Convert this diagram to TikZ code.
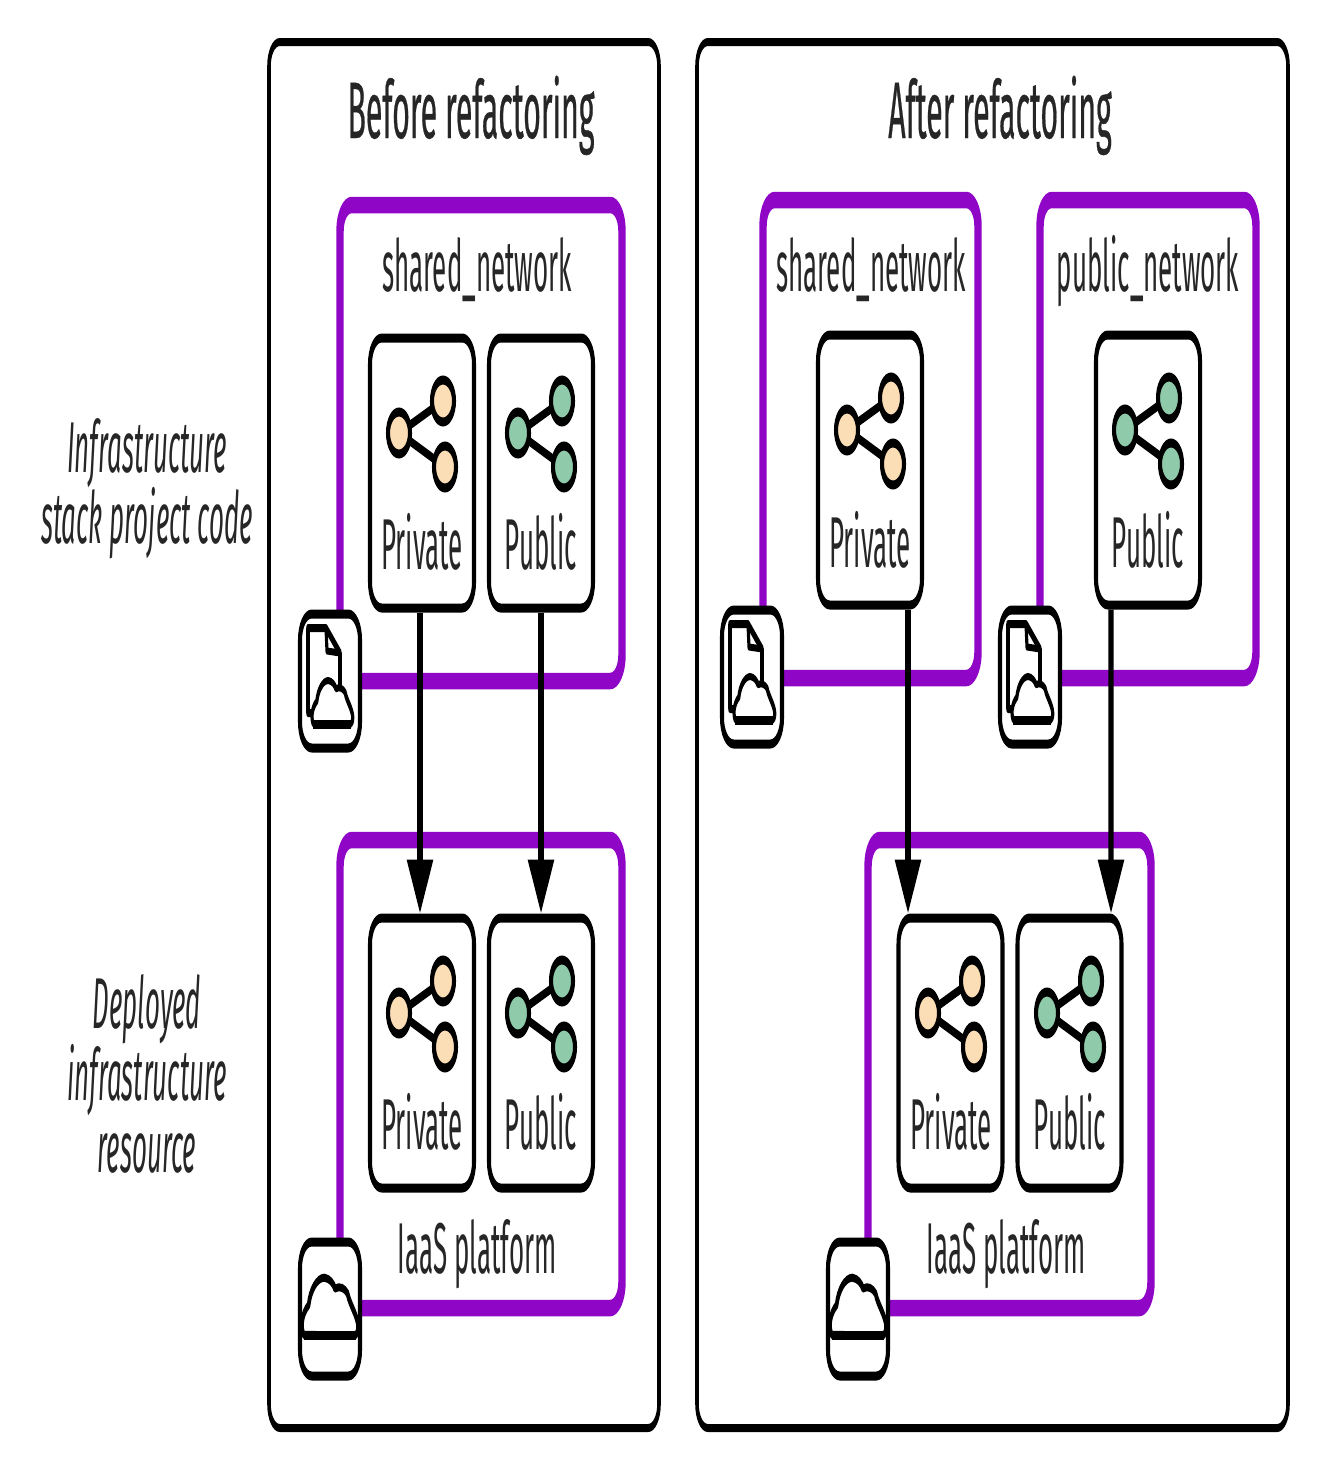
\documentclass[tikz,border=0pt]{standalone}
\usepackage{fontspec}
\usetikzlibrary{arrows.meta}
\setmainfont[FakeStretch=0.8]{Fira Sans}
\newfontfamily\headfont[FakeStretch=0.84,FakeBold=0.6]{Fira Sans}
\definecolor{peach}{HTML}{FBDDB6}
\definecolor{mint}{HTML}{8FCBAB}
\definecolor{violet}{HTML}{9006C6}
\definecolor{ink}{HTML}{262626}
\newcommand{\ks}{0.45}
\tikzset{
  panel/.style={draw=black,line width=8pt,rounded corners=24pt,fill=white,inner sep=0pt},
  grp/.style={draw=violet,line width=16.5pt,rounded corners=26pt},
  subnet/.style={draw=black,line width=9pt,rounded corners=26pt,fill=white,inner sep=0pt,minimum width=104pt/\ks,minimum height=270pt},
  iconbox/.style={draw=black,line width=9pt,rounded corners=26pt,fill=white,inner sep=0pt,minimum width=60pt/\ks,minimum height=134pt},
  link/.style={draw=black,line width=12pt,-{Triangle[length=54pt,width=56pt]}},
  body/.style={text=ink,inner sep=0pt,anchor=base,font=\fontsize{72}{80}\selectfont},
  heading/.style={text=ink,inner sep=0pt,anchor=base,font=\headfont\fontsize{80}{88}\selectfont},
  side/.style={text=ink,inner sep=0pt,anchor=base,font=\itshape\fontsize{72}{80}\selectfont},
  pics/share/.style={code={
    \draw[black,line width=9pt] (29,95) -- (73,63) (29,95) -- (75,129);
    \draw[black,line width=9pt,fill=#1] (29,95) ellipse [x radius=11,y radius=21];
    \draw[black,line width=9pt,fill=#1] (73,63) ellipse [x radius=11,y radius=21];
    \draw[black,line width=9pt,fill=#1] (75,129) ellipse [x radius=11,y radius=21];
  }},
  pics/cloud/.style={code={
    \draw[black,line width=#1,line join=round,fill=white]
      (5,175) .. controls (-5,150) and (0,110) .. (20,85)
      .. controls (25,40) and (45,2) .. (68,2)
      .. controls (85,5) and (95,20) .. (100,35)
      .. controls (115,25) and (130,35) .. (138,50)
      .. controls (145,85) and (168,115) .. (170,150)
      .. controls (170,165) and (165,175) .. (160,178) -- cycle;
    \draw[black,line width=9pt] (5,178) -- (163,178);
  }},
  pics/docfile/.style={code={
    \draw[black,line width=8pt,line join=round,fill=white]
      (10,15) -- (28,15) -- (42,40) -- (42,100) -- (10,100) -- cycle;
    \draw[black,line width=7pt,line join=round] (28,15) -- (29,38) -- (42,40);
  }}
}
\begin{document}
\begin{tikzpicture}[x=1pt,y=-1pt]
\fill[white,use as bounding box] (0,0) rectangle (1322,1462);
\begin{scope}[transform canvas={xscale=\ks},x=1pt/\ks,y=-1pt]

% panels
\node[panel,minimum width=390pt/\ks,minimum height=1386pt] (pb) at (464,735) {};
\node[panel,minimum width=591pt/\ks,minimum height=1386pt] (pa) at (992.5,735) {};
\node[heading] (tb) at (471,138) {Before refactoring};
\node[heading] (ta) at (1000,138) {After refactoring};

% side labels
\node[side] (s1) at (147,472) {Infrastructure};
\node[side] (s2) at (147,543) {stack project code};
\node[side] (s3) at (147,1028) {Deployed};
\node[side] (s4) at (147,1100) {infrastructure};
\node[side] (s5) at (147,1172) {resource};

% groups
\draw[grp] (340,205) rectangle (622,681);
\draw[grp] (340,840) rectangle (622,1308);
\draw[grp] (763,200) rectangle (978,678);
\draw[grp] (1040,200) rectangle (1256,678);
\draw[grp] (868,840) rectangle (1151,1308);

\node[body] (l1) at (477,291) {shared\_network};
\node[body] (l2) at (477,1273) {IaaS platform};
\node[body] (l3) at (871,291) {shared\_network};
\node[body] (l4) at (1148,291) {public\_network};
\node[body] (l5) at (1006,1273) {IaaS platform};

% subnets: before, code
\node[subnet] (bcp) at (422,473) {};
\pic[shift={(370,338)}] {share=peach};
\node[body] at (422,569) (tbcp) {Private};
\node[subnet] (bcq) at (541,473) {};
\pic[shift={(489,338)}] {share=mint};
\node[body] at (541,569) (tbcq) {Public};
% subnets: before, deployed
\node[subnet] (bdp) at (422,1053) {};
\pic[shift={(370,918)}] {share=peach};
\node[body] at (422,1149) (tbdp) {Private};
\node[subnet] (bdq) at (541,1053) {};
\pic[shift={(489,918)}] {share=mint};
\node[body] at (541,1149) (tbdq) {Public};
% subnets: after, code
\node[subnet] (acp) at (870,470) {};
\pic[shift={(818,335)}] {share=peach};
\node[body] at (870,567) (tacp) {Private};
\node[subnet] (acq) at (1148,470) {};
\pic[shift={(1096,335)}] {share=mint};
\node[body] at (1148,567) (tacq) {Public};
% subnets: after, deployed
\node[subnet] (adp) at (950.5,1053) {};
\pic[shift={(899,918)}] {share=peach};
\node[body] at (951,1149) (tadp) {Private};
\node[subnet] (adq) at (1069.5,1053) {};
\pic[shift={(1018,918)}] {share=mint};
\node[body] at (1070,1149) (tadq) {Public};

% connectors
\draw[link] ([shift={(-2,0)}]bcp.south) -- ([shift={(-2,0)}]bdp.north);
\draw[link] (bcq.south) -- (bdq.north);
\draw[link] ([shift={(38,0)}]acp.south) -- ([shift={(-42.5,0)}]adp.north);
\draw[link] ([shift={(-37,0)}]acq.south) -- ([shift={(41.5,0)}]adq.north);

% stack icons
\node[iconbox] (ib1) at (330,681) {};
\pic[shift={(298,613)}] {docfile};
\pic[shift={(312,680)},xscale=0.24,yscale=0.25] {cloud=7pt};
\node[iconbox] (ib2) at (752,677) {};
\pic[shift={(720,609)}] {docfile};
\pic[shift={(734,676)},xscale=0.24,yscale=0.25] {cloud=7pt};
\node[iconbox] (ib3) at (1030,677) {};
\pic[shift={(998,609)}] {docfile};
\pic[shift={(1012,676)},xscale=0.24,yscale=0.25] {cloud=7pt};
% platform icons
\node[iconbox] (ib4) at (330,1309) {};
\pic[shift={(302,1277)},xscale=0.33,yscale=0.33] {cloud=8pt};
\node[iconbox] (ib5) at (858,1309) {};
\pic[shift={(830,1277)},xscale=0.33,yscale=0.33] {cloud=8pt};
\end{scope}
\end{tikzpicture}
\end{document}
